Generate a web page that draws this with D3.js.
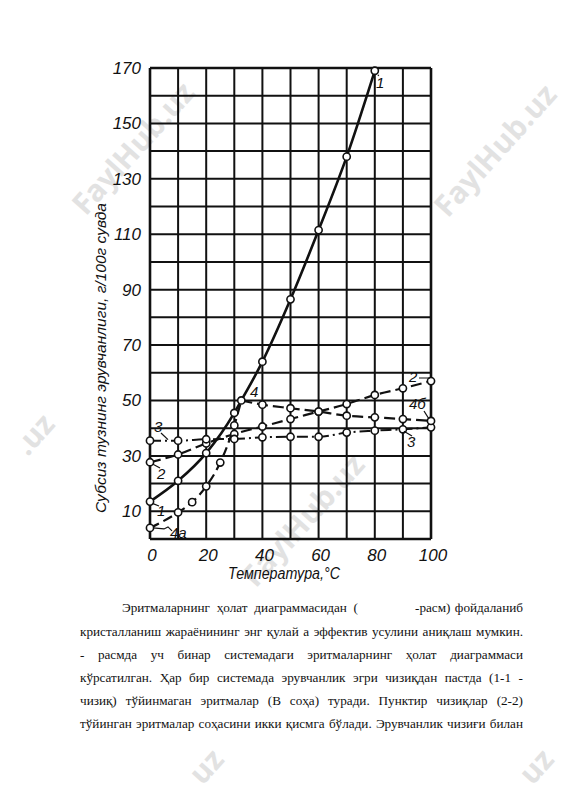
<!DOCTYPE html>
<html><head><meta charset="utf-8">
<script src="https://cdn.jsdelivr.net/npm/d3@7"></script>
<style>body{margin:0;background:#fff}svg{display:block}</style>
</head><body>
<svg id="c" width="565" height="800"></svg>
<script>
// ---------- data ----------
const xTicks = [0, 20, 40, 60, 80, 100];
const yTicks = [10, 30, 50, 70, 90, 110, 130, 150, 170];
const gridX = [0,10,20,30,40,50,60,70,80,90,100];
const gridY = [0,10,20,30,40,50,60,70,80,90,100,110,120,130,140,150,160,170];
const curve1  = [[0,13.5],[10,21],[20,31],[30,45.5],[32.5,50],[40,64],[50,86.5],[60,111.5],[70,138],[80,169]];
const curve2  = [[0,27.7],[10,30.5],[20,34.5],[30,37.9],[40,40.6],[50,43.3],[60,46],[70,48.7],[80,52],[90,54.4],[100,57]];
const curve3  = [[0,35.5],[10,35.5],[20,36],[30,36.1],[40,36.7],[50,36.9],[60,36.9],[70,38.4],[80,39.1],[90,39.6],[100,40.3]];
const curve4a = [[0,4],[10,9.6],[15,13.3],[20,19],[25,27.6],[30,41],[32.5,50]];
const curve4b = [[32.5,50],[40,48.5],[50,47.2],[60,46],[70,44.5],[80,43.9],[90,43.3],[100,42.6]];
const yTitle = "Субсиз тузнинг эрувчанлиги, г/100г сувда";
const xTitle = "Температура,°C";
const paragraph = [
  [["Эритмаларнинг","ҳолат","диаграммасидан","("],["-расм)","фойдаланиб"]],
  [["кристалланиш","жараёнининг","энг","қулай","а","эффектив","усулини","аниқлаш","мумкин."]],
  [["-","расмда","уч","бинар","системадаги","эритмаларнинг","ҳолат","диаграммаси"]],
  [["кўрсатилган.","Ҳар","бир","системада","эрувчанлик","эгри","чизиқдан","пастда","(1-1","-"]],
  [["чизиқ)","тўйинмаган","эритмалар","(В","соҳа)","туради.","Пунктир","чизиқлар","(2-2)"]],
  [["тўйинган","эритмалар","соҳасини","икки","қисмга","бўлади.","Эрувчанлик","чизиғи","билан"]]
];

// ---------- drawing ----------
const svg = d3.select("#c");
const x = d3.scaleLinear().domain([0,100]).range([150,431]);
const y = d3.scaleLinear().domain([0,170]).range([539,68]);

// watermarks
const wm = svg.append("g").attr("fill","#e2e2e2").attr("font-family","Open Sans, DejaVu Sans, sans-serif")
  .attr("font-weight","bold").attr("font-size",30);
[[135,150,"middle","FaylHub.uz"],[497,152,"middle","FaylHub.uz"],[305,522,"middle","FaylHub.uz"],
 [36,436,"middle",".uz"],[208,768,"middle","uz"],[538,768,"middle","uz"]]
 .forEach(([cx,cy,a,t])=>{
   wm.append("text").attr("transform",`translate(${cx},${cy}) rotate(-48)`)
     .attr("text-anchor",a).attr("dominant-baseline","middle").text(t);
 });

// grid
const g = svg.append("g");
g.selectAll(".vx").data(gridX).join("line")
  .attr("x1",d=>x(d)).attr("x2",d=>x(d)).attr("y1",y(0)).attr("y2",y(170))
  .attr("stroke","#111").attr("stroke-width",d=>(d===0||d===100)?2.6:2);
g.selectAll(".hy").data(gridY).join("line")
  .attr("y1",d=>y(d)).attr("y2",d=>y(d)).attr("x1",x(0)).attr("x2",x(100))
  .attr("stroke","#111").attr("stroke-width",d=>(d===0||d===170)?2.6:2);

// tick labels
const tickFont = "Liberation Sans, Arial, sans-serif";
svg.append("g").selectAll("text").data(yTicks).join("text")
  .attr("x",141).attr("y",d=>y(d)+6).attr("text-anchor","end")
  .attr("font-family",tickFont).attr("font-style","italic").attr("font-size",17).attr("fill","#111")
  .text(d=>d);
svg.append("g").selectAll("text").data(xTicks).join("text")
  .attr("x",d=>x(d)+2).attr("y",561).attr("text-anchor","middle")
  .attr("font-family",tickFont).attr("font-style","italic").attr("font-size",17).attr("fill","#111")
  .text(d=>d);

// titles
svg.append("text").attr("x",284).attr("y",579).attr("text-anchor","middle")
  .attr("font-family",tickFont).attr("font-style","italic").attr("font-size",16)
  .attr("textLength",112).attr("lengthAdjust","spacingAndGlyphs").attr("fill","#111").text(xTitle);
svg.append("text").attr("transform","translate(106,358) rotate(-90)").attr("text-anchor","middle")
  .attr("font-family",tickFont).attr("font-style","italic").attr("font-size",15)
  .attr("textLength",310).attr("lengthAdjust","spacingAndGlyphs").attr("fill","#111").text(yTitle);

// curves
const line = d3.line().x(d=>x(d[0])).y(d=>y(d[1])).curve(d3.curveMonotoneX);
const cg = svg.append("g").attr("fill","none").attr("stroke","#111");
cg.append("path").attr("d",line(curve1)).attr("stroke-width",2.6);
cg.append("path").attr("d",line(curve2)).attr("stroke-width",2.2).attr("stroke-dasharray","11 5");
cg.append("path").attr("d",line(curve3)).attr("stroke-width",2).attr("stroke-dasharray","11 4 2 4");
cg.append("path").attr("d",line(curve4a)).attr("stroke-width",2.2).attr("stroke-dasharray","10 5");
cg.append("path").attr("d",line(curve4b)).attr("stroke-width",2.2).attr("stroke-dasharray","11 5");

// points
const pts = [].concat(curve1,curve2,curve3,curve4a.slice(0,6),curve4b.slice(1));
svg.append("g").selectAll("circle").data(pts).join("circle")
  .attr("cx",d=>x(d[0])).attr("cy",d=>y(d[1])).attr("r",3.6)
  .attr("fill","#fff").attr("stroke","#111").attr("stroke-width",1.6);

// curve labels and leaders
const lab = svg.append("g").attr("font-family",tickFont).attr("font-style","italic")
  .attr("font-size",15).attr("fill","#111");
const labels = [["1",376,88],["1",157,516],["2",157,479],["3",154,432],["4",250,397],
  ["4а",170,538],["2",409,382],["4б",409,409],["3",407,447]];
labels.forEach(([t,lx,ly])=>lab.append("text").attr("x",lx).attr("y",ly).text(t));
const lead = svg.append("g").attr("stroke","#111").attr("stroke-width",1.2).attr("fill","none");
[[[x(0)+3,y(13.5)+2],[159,506]],[[x(0)+3,y(27.7)+2],[160,468]],[[161,433],[168,y(35.5)-1]],
 [[x(0)+3,y(4)],[164,y(4)+1],[168,y(4)-1],[172,y(4)+3]],
 [[419,378],[429,378],[x(100)-2,y(57)-2]],[[424,411],[x(100)-2,y(42.6)-2]],
 [[412,436],[x(90)+1,y(39.6)+2]],[[x(80)+4,y(169)+4],[378,76]]]
 .forEach(p=>lead.append("path").attr("d",d3.line()(p)));

// paragraph text
const pg = svg.append("g").attr("font-family","Liberation Serif, Times New Roman, serif")
  .attr("font-size",13.2).attr("fill","#111");
function justify(words,x0,x1,yy){
  const nodes = words.map(w=>pg.append("text").attr("y",yy).text(w));
  const widths = nodes.map(n=>n.node().getComputedTextLength());
  const sum = d3.sum(widths);
  let gap = words.length>1 ? (x1-x0-sum)/(words.length-1) : 0;
  let scale = 1;
  if (gap < 3.2) { gap = 3.2; scale = (x1-x0-gap*(words.length-1))/sum; }
  let cx = x0;
  nodes.forEach((n,i)=>{
    const w = widths[i]*scale;
    n.attr("x",cx);
    if (scale !== 1) n.attr("textLength",w).attr("lengthAdjust","spacingAndGlyphs");
    cx += w+gap;
  });
}
const baseY = [612,636,659,682,705,728];
justify(paragraph[0][0],122,358,baseY[0]);
justify(paragraph[0][1],415,523,baseY[0]);
for(let i=1;i<paragraph.length;i++) justify(paragraph[i][0],80,523,baseY[i]);
</script>
</body></html>
